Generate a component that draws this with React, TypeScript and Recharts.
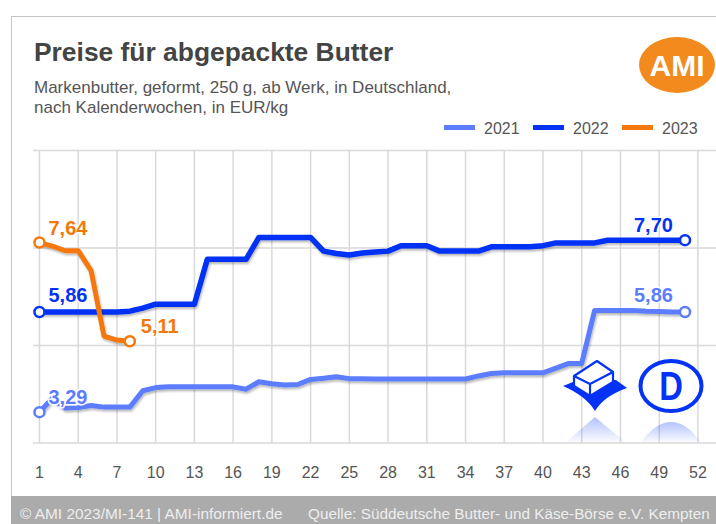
import React from 'react';
import { LineChart, Line, XAxis, YAxis, CartesianGrid, Legend } from 'recharts';

const weeks = [
  1, 2, 3, 4, 5, 6, 7, 8, 9, 10, 11, 12, 13, 14, 15, 16, 17, 18, 19, 20, 21, 22, 23, 24, 25, 26,
  27, 28, 29, 30, 31, 32, 33, 34, 35, 36, 37, 38, 39, 40, 41, 42, 43, 44, 45, 46, 47, 48, 49, 50, 51,
];
const weekTicks = [1, 4, 7, 10, 13, 16, 19, 22, 25, 28, 31, 34, 37, 40, 43, 46, 49, 52];
const priceTicks = [2.5, 5, 7.5, 10];

const prices2021 = [
  3.29, 3.65, 3.4, 3.41, 3.46, 3.42, 3.42, 3.42, 3.84, 3.92, 3.94, 3.94, 3.94, 3.94, 3.94, 3.94, 3.88,
  4.07, 4.02, 3.99, 4.0, 4.13, 4.16, 4.2, 4.15, 4.15, 4.14, 4.14, 4.14, 4.14, 4.14, 4.14, 4.14, 4.14,
  4.22, 4.28, 4.3, 4.3, 4.3, 4.3, 4.42, 4.54, 4.54, 5.9, 5.9, 5.9, 5.9, 5.88, 5.87, 5.86, 5.86,
];
const prices2022 = [
  5.86, 5.86, 5.86, 5.86, 5.86, 5.86, 5.86, 5.88, 5.96, 6.06, 6.06, 6.06, 6.06, 7.21, 7.21, 7.21, 7.21,
  7.77, 7.77, 7.77, 7.77, 7.77, 7.42, 7.36, 7.32, 7.37, 7.4, 7.42, 7.56, 7.56, 7.56, 7.42, 7.42, 7.42,
  7.42, 7.53, 7.53, 7.53, 7.53, 7.56, 7.63, 7.63, 7.63, 7.63, 7.7, 7.7, 7.7, 7.7, 7.7, 7.7, 7.7,
];
const prices2023 = [7.64, 7.55, 7.43, 7.43, 6.92, 5.24, 5.14, 5.11];

const tableData = weeks.map((week, i) => ({
  week,
  y2021: prices2021[i],
  y2022: prices2022[i],
  y2023: prices2023[i],
}));

const COLOR_2021 = '#5c7dff';
const COLOR_2022 = '#0433f5';
const COLOR_2023 = '#f4780c';
const FONT = '"Liberation Sans", Arial, sans-serif';

// open circle on the first and last point of a series only
const endDot = (color: string, lastIndex: number) => (props: any) => {
  const { cx, cy, index } = props;
  if (index !== 0 && index !== lastIndex) return <g key={index} />;
  return <circle key={index} cx={cx} cy={cy} r={5} fill="#fff" stroke={color} strokeWidth={2.5} />;
};

// value labels next to the end points, placed relative to the point
const endLabel = (color: string, items: { index: number; text: string; dx: number; dy: number }[]) => (props: any) => {
  const item = items.find((d) => d.index === props.index);
  if (!item) return <g key={props.index} />;
  return (
    <text
      key={props.index}
      x={props.x + item.dx}
      y={props.y + item.dy}
      fill={color}
      stroke="#fff"
      strokeWidth={3}
      paintOrder="stroke"
      fontFamily={FONT}
      fontWeight="bold"
      fontSize={20}
    >
      {item.text}
    </text>
  );
};

const LegendRow = ({ payload }: any) => (
  <div style={{ display: 'flex', fontFamily: FONT, fontSize: 16, color: '#555' }}>
    {(payload || []).map((p: any) => (
      <div key={p.value} style={{ display: 'flex', alignItems: 'center', width: 89, height: 20 }}>
        <span style={{ width: 31, height: 5, marginRight: 9, marginTop: -3, background: p.color }} />
        {p.value}
      </div>
    ))}
  </div>
);

const Logos = () => (
  <svg width={716} height={524} style={{ position: 'absolute', left: 0, top: 0, pointerEvents: 'none' }}>
    <defs>
      <linearGradient id="fade" x1="0" y1="0" x2="0" y2="1">
        <stop offset="0" stopColor={COLOR_2022} stopOpacity={0.3} />
        <stop offset="1" stopColor={COLOR_2022} stopOpacity={0.02} />
      </linearGradient>
    </defs>
    <ellipse cx={677} cy={65} rx={38} ry={28} fill="#f28a1e" />
    <text x={677} y={76} textAnchor="middle" fontFamily={FONT} fontWeight="bold" fontSize={30} fill="#fff">
      AMI
    </text>

    {/* reflection of the marks below the grid */}
    <path d="M566 442 L595 417 L625 442 Z" fill="url(#fade)" />
    <path d="M641 442 Q671 402 701 442 Z" fill="url(#fade)" />

    {/* butter on a cushion */}
    <path d="M563 386 L578 380 L616 380 L627 388 Q604 396 595 411 Q586 396 563 386 Z" fill={COLOR_2022} />
    <path d="M574 376 L597 361 L613 372 L613 382 L590 396 L574 386 Z" fill="#fff" stroke={COLOR_2022} strokeWidth={2.2} strokeLinejoin="round" />
    <path d="M574 376 L590 384 L613 372 M590 384 L590 396" fill="none" stroke={COLOR_2022} strokeWidth={2.2} />

    {/* D badge */}
    <ellipse cx={671} cy={386} rx={30.5} ry={25} fill="#fff" stroke={COLOR_2022} strokeWidth={4} />
    <text
      x={0}
      y={0}
      transform="translate(671 400) scale(0.82 1)"
      textAnchor="middle"
      fontFamily={FONT}
      fontWeight="bold"
      fontSize={40}
      fill={COLOR_2022}
    >
      D
    </text>
  </svg>
);

export default function App() {
  return (
    <div style={{ position: 'absolute', left: 0, top: 0, width: 716, height: 524, overflow: 'hidden', background: '#fff', fontFamily: FONT }}>
      {/* panel frame and footer band */}
      <div style={{ position: 'absolute', left: 11, top: 16, width: 720, height: 510, border: '1.5px solid #c4c4c4', boxSizing: 'border-box' }} />
      <div style={{ position: 'absolute', left: 11, top: 496, width: 705, height: 28, background: '#ababab' }} />

      <div style={{ position: 'absolute', left: 34, top: 37, fontSize: 26.4, fontWeight: 'bold', color: '#444', whiteSpace: 'nowrap' }}>
        Preise für abgepackte Butter
      </div>
      <div style={{ position: 'absolute', left: 34, top: 78, fontSize: 17, lineHeight: '20px', color: '#555', whiteSpace: 'nowrap' }}>
        Markenbutter, geformt, 250 g, ab Werk, in Deutschland,
        <br />
        nach Kalenderwochen, in EUR/kg
      </div>

      <LineChart
        width={716}
        height={524}
        data={tableData}
        margin={{ top: 130.5, right: 0, bottom: 0, left: 33 }}
        style={{ position: 'absolute', left: 0, top: 0 }}
      >
        <defs>
          <filter id="lineShadow" x="-5%" y="-20%" width="110%" height="140%">
            <feDropShadow dx={1} dy={2} stdDeviation={1.2} floodColor="#000" floodOpacity={0.28} />
          </filter>
        </defs>
        <CartesianGrid stroke="#d9d9d9" strokeWidth={1.5} syncWithTicks />
        <XAxis
          dataKey="week"
          type="number"
          domain={[0.5, 53.4]}
          ticks={weekTicks}
          interval={0}
          height={81}
          axisLine={false}
          tickLine={false}
          tickMargin={18}
          tick={{ fill: '#555', fontSize: 16, fontFamily: FONT }}
        />
        <YAxis hide type="number" domain={[2.5, 10]} ticks={priceTicks} />
        <Legend
          verticalAlign="top"
          align="left"
          content={<LegendRow />}
          wrapperStyle={{ position: 'absolute', left: 444, top: 119, width: 270 }}
        />
        <Line
          dataKey="y2021"
          name="2021"
          type="linear"
          stroke={COLOR_2021}
          strokeWidth={5}
          strokeLinejoin="round"
          filter="url(#lineShadow)"
          dot={endDot(COLOR_2021, 50)}
          label={endLabel(COLOR_2021, [
            { index: 0, text: '3,29', dx: 9, dy: -8 },
            { index: 50, text: '5,86', dx: -51, dy: -10 },
          ])}
          isAnimationActive={false}
        />
        <Line
          dataKey="y2022"
          name="2022"
          type="linear"
          stroke={COLOR_2022}
          strokeWidth={5.5}
          strokeLinejoin="round"
          filter="url(#lineShadow)"
          dot={endDot(COLOR_2022, 50)}
          label={endLabel(COLOR_2022, [
            { index: 0, text: '5,86', dx: 9, dy: -10 },
            { index: 50, text: '7,70', dx: -51, dy: -8 },
          ])}
          isAnimationActive={false}
        />
        <Line
          dataKey="y2023"
          name="2023"
          type="linear"
          stroke={COLOR_2023}
          strokeWidth={5}
          strokeLinejoin="round"
          filter="url(#lineShadow)"
          dot={endDot(COLOR_2023, 7)}
          label={endLabel(COLOR_2023, [
            { index: 0, text: '7,64', dx: 9, dy: -8 },
            { index: 7, text: '5,11', dx: 11, dy: -8 },
          ])}
          isAnimationActive={false}
        />
      </LineChart>

      <Logos />

      <div style={{ position: 'absolute', left: 20, top: 505, fontSize: 15.4, color: '#eee', whiteSpace: 'nowrap' }}>
        © AMI 2023/MI-141 | AMI-informiert.de
      </div>
      <div style={{ position: 'absolute', left: 308, top: 505, fontSize: 15.3, color: '#eee', whiteSpace: 'nowrap' }}>
        Quelle: Süddeutsche Butter- und Käse-Börse e.V. Kempten
      </div>
    </div>
  );
}
